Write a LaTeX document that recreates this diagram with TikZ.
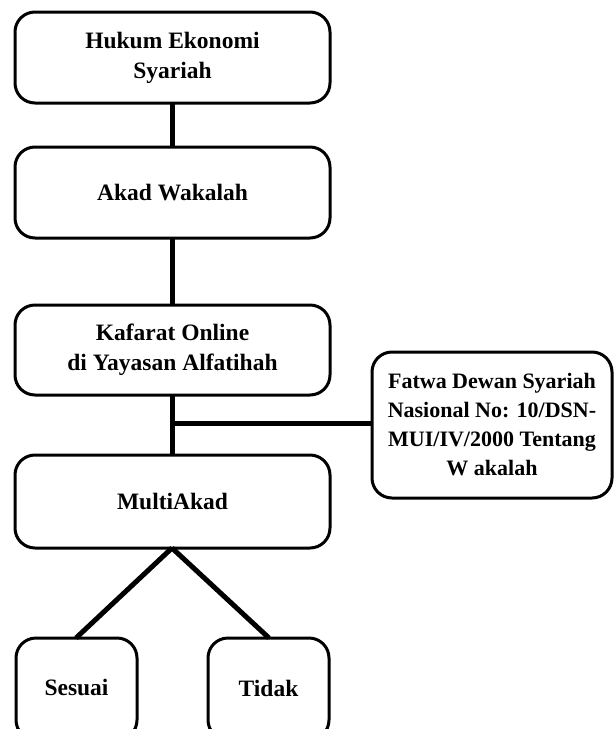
\documentclass[tikz,border=0pt]{standalone}
\usepackage{fontspec}
\setmainfont{Liberation Serif}
\begin{document}
\begin{tikzpicture}[x=1pt,y=-1pt,
  box/.style={draw=black,line width=3pt,rounded corners=20pt,fill=white,
    align=center,font=\fontsize{23.5}{30}\selectfont\bfseries,inner sep=0pt},
  conn/.style={draw=black,line width=5pt}]
\useasboundingbox (0,0) rectangle (615,729);
\clip (0,0) rectangle (615,729);
\node[box,minimum width=315pt,minimum height=91pt] (hukum) at (172.5,57.5) {Hukum Ekonomi\\Syariah};
\node[box,minimum width=315pt,minimum height=91pt] (akad) at (172.5,192.5) {Akad Wakalah};
\node[box,minimum width=315pt,minimum height=90pt] (kafarat) at (172.5,350) {Kafarat Online\\di Yayasan Alfatihah};
\node[box,minimum width=315pt,minimum height=93pt] (multi) at (172.5,501.5) {MultiAkad};
\node[box,minimum width=240pt,minimum height=146pt,font=\fontsize{22}{29}\selectfont\bfseries] (fatwa) at (492,425) {Fatwa Dewan Syariah\\Nasional No: 10/DSN-\\MUI/IV/2000 Tentang\\W akalah};
\node[box,minimum width=121pt,minimum height=102pt,text depth=0pt] (sesuai) at (76.5,689) {\raisebox{4pt}{Sesuai}};
\node[box,minimum width=121pt,minimum height=102pt] (tidak) at (268.5,689) {\raisebox{2pt}{Tidak}};
\coordinate (j) at (172,423);
\coordinate (ma) at (172,548);
\draw[conn] (172,103) -- (172,147);
\draw[conn] (172,238) -- (172,305);
\draw[conn] (172,395) -- (172,455);
\draw[conn] (j) -- (j -| fatwa.west);
\draw[conn] (ma) -- (76,638);
\draw[conn] (ma) -- (269,638);
\end{tikzpicture}
\end{document}
